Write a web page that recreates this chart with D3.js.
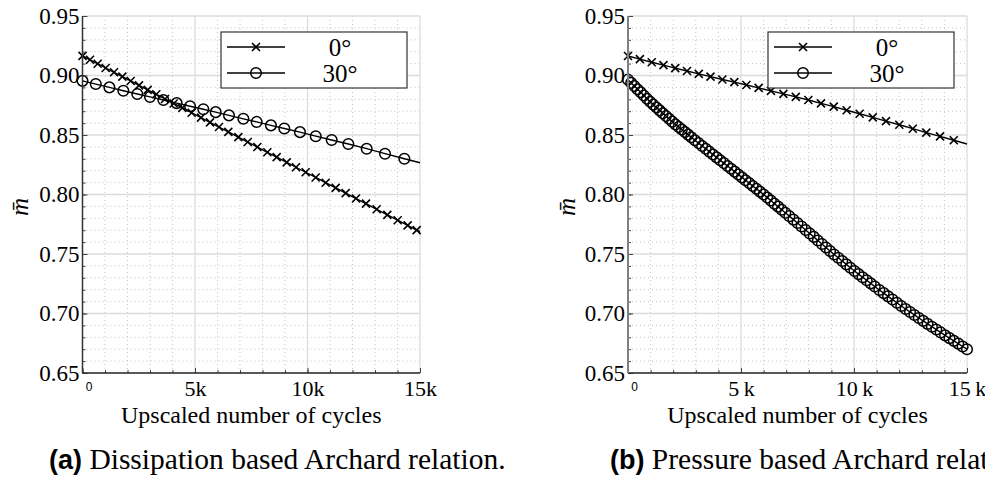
<!DOCTYPE html>
<html>
<head>
<meta charset="utf-8">
<script src="https://cdn.jsdelivr.net/npm/d3@7"></script>
<style>
  body { margin: 0; background: #fff; }
  svg { display: block; overflow: hidden; }
</style>
</head>
<body>
<svg id="chart" width="985" height="480"></svg>
<script>
// (a) dissipation based, 0 deg: marker positions
var cyclesA0 = [0, 333, 674, 1030, 1400, 1770, 2141, 2511, 2896, 3281, 3667, 4052, 4437, 4852, 5267,
    5667, 6067, 6481, 6926, 7341, 7770, 8215, 8630, 9074, 9489, 9919, 10363, 10807, 11252, 11696,
    12156, 12600, 13074, 13548, 14007, 14452, 14852];
var mA0 = [0.9165, 0.9132, 0.9099, 0.9063, 0.9027, 0.8990, 0.8954, 0.8917, 0.8879, 0.8842, 0.8803,
    0.8765, 0.8728, 0.8687, 0.8646, 0.8606, 0.8567, 0.8526, 0.8482, 0.8441, 0.8399, 0.8355, 0.8314,
    0.8270, 0.8229, 0.8187, 0.8143, 0.8099, 0.8056, 0.8012, 0.7966, 0.7923, 0.7876, 0.7829, 0.7784,
    0.7740, 0.7701];
var endA0 = 0.769;

// (a) 30 deg
var cyclesA30 = [0, 590, 1195, 1815, 2435, 3000, 3595, 4185, 4780, 5370, 5920, 6510, 7150, 7740,
    8375, 8970, 9665, 10365, 11075, 11815, 12630, 13445, 14305];
var mA30 = [0.8955, 0.8928, 0.8900, 0.8872, 0.8845, 0.8820, 0.8794, 0.8768, 0.8742, 0.8716, 0.8692,
    0.8665, 0.8636, 0.8610, 0.8581, 0.8555, 0.8524, 0.8490, 0.8458, 0.8424, 0.8385, 0.8343, 0.8300];
var endA30 = 0.8267;

// (b) pressure based, 0 deg
var cyclesB0 = [0, 525, 1050, 1570, 2090, 2610, 3130, 3650, 4175, 4705, 5240, 5780, 6325, 6875,
    7425, 7980, 8540, 9105, 9675, 10250, 10830, 11415, 12005, 12600, 13200, 13805, 14415];
var mB0 = [0.9164, 0.9138, 0.9111, 0.9087, 0.9062, 0.9038, 0.9014, 0.8990, 0.8966, 0.8944, 0.8920,
    0.8896, 0.8871, 0.8846, 0.8820, 0.8794, 0.8766, 0.8738, 0.8708, 0.8679, 0.8648, 0.8617, 0.8586,
    0.8553, 0.8520, 0.8488, 0.8456];
var endB0 = 0.8424;

// (b) 30 deg
var cyclesB30 = [0, 140, 280, 420, 560, 700, 840, 980, 1120, 1260, 1400, 1540, 1680, 1820, 1960,
    2100, 2240, 2380, 2520, 2660, 2800,
    2960, 3120, 3280, 3440, 3600, 3760, 3920, 4080, 4240, 4400, 4560, 4720, 4880, 5040, 5200, 5360,
    5520, 5680, 5840, 6000, 6160, 6320, 6480, 6640, 6800, 6960,
    7140, 7320, 7500, 7680, 7860, 8040, 8220, 8400, 8580, 8760, 8940, 9120, 9300, 9480, 9660, 9840,
    10020, 10200, 10380, 10560, 10740, 10920,
    11120, 11314, 11508, 11702, 11896, 12090, 12284, 12478, 12672, 12866, 13060, 13254, 13448, 13642,
    13836, 14030, 14224, 14418, 14612, 14806, 15000];
var mB30 = [0.8965, 0.8938, 0.8912, 0.8885, 0.8859, 0.8832, 0.8805, 0.8779, 0.8755, 0.8731, 0.8707,
    0.8683, 0.8659, 0.8636, 0.8612, 0.8589, 0.8568, 0.8546, 0.8525, 0.8503, 0.8481,
    0.8456, 0.8432, 0.8408, 0.8384, 0.8360, 0.8336, 0.8312, 0.8288, 0.8264, 0.8240, 0.8216, 0.8192,
    0.8168, 0.8144, 0.8120, 0.8096, 0.8072, 0.8048, 0.8024, 0.8000, 0.7974, 0.7949, 0.7923, 0.7898,
    0.7872, 0.7846,
    0.7818, 0.7789, 0.7760, 0.7731, 0.7702, 0.7673, 0.7644, 0.7614, 0.7584, 0.7555, 0.7525, 0.7496,
    0.7469, 0.7441, 0.7413, 0.7385, 0.7357, 0.7331, 0.7305, 0.7279, 0.7253, 0.7227,
    0.7198, 0.7171, 0.7144, 0.7117, 0.7090, 0.7063, 0.7038, 0.7013, 0.6988, 0.6962, 0.6938, 0.6913,
    0.6889, 0.6865, 0.6841, 0.6816, 0.6793, 0.6770, 0.6747, 0.6723, 0.6700];
var endB30 = null;

var xTickValues = [0, 5000, 10000, 15000];
var xTickLabelsA = ["0", "5k", "10k", "15k"];
var xTickLabelsB = ["0", "5\u2009k", "10\u2009k", "15\u2009k"];
var yTickValues = [0.65, 0.70, 0.75, 0.80, 0.85, 0.90, 0.95];
var legendLabels = ["0°", "30°"];
var xLabel = "Upscaled number of cycles";

var svg = d3.select("#chart");
var serif = "'Liberation Serif', 'Times New Roman', serif";
var sans = "'Liberation Sans', Arial, sans-serif";

function drawPanel(opt) {
    var x = d3.scaleLinear().domain([0, 15000]).range([opt.left, opt.right]);
    var y = d3.scaleLinear().domain([0.65, 0.95]).range([373, 16]);
    var g = svg.append("g");

    // minor grid (dotted)
    var minorX = d3.range(1000, 15000, 1000).filter(function(v) { return v % 5000 !== 0; });
    var minorY = d3.range(66, 95, 1).filter(function(v) { return v % 5 !== 0; }).map(function(v) { return v / 100; });
    g.append("g").selectAll("line").data(minorX).enter().append("line")
        .attr("x1", x).attr("x2", x).attr("y1", y(0.65)).attr("y2", y(0.95))
        .attr("stroke", "#c4c4c4").attr("stroke-width", 1).attr("stroke-dasharray", "1,3");
    g.append("g").selectAll("line").data(minorY).enter().append("line")
        .attr("y1", y).attr("y2", y).attr("x1", x(0)).attr("x2", x(15000))
        .attr("stroke", "#c4c4c4").attr("stroke-width", 1).attr("stroke-dasharray", "1,3");
    // major grid
    g.append("g").selectAll("line").data([5000, 10000, 15000]).enter().append("line")
        .attr("x1", x).attr("x2", x).attr("y1", y(0.65)).attr("y2", y(0.95))
        .attr("stroke", "#dcdcdc").attr("stroke-width", 1.3);
    g.append("g").selectAll("line").data([0.70, 0.75, 0.80, 0.85, 0.90, 0.95]).enter().append("line")
        .attr("y1", y).attr("y2", y).attr("x1", x(0)).attr("x2", x(15000))
        .attr("stroke", "#dcdcdc").attr("stroke-width", 1.3);

    // series
    var line = d3.line().x(function(d) { return x(d[0]); }).y(function(d) { return y(d[1]); });
    opt.series.forEach(function(s) {
        var pts = s.cycles.map(function(c, i) { return [c, s.m[i]]; });
        var linePts = s.end === null ? pts : pts.concat([[15000, s.end]]);
        g.append("path").datum(linePts).attr("d", line)
            .attr("fill", "none").attr("stroke", "#000").attr("stroke-width", 1.4);
        var mk = g.append("g").selectAll("g").data(pts).enter().append("g")
            .attr("transform", function(d) { return "translate(" + x(d[0]) + "," + y(d[1]) + ")"; });
        drawMarker(mk, s.marker);
    });

    // axes
    var ax = d3.axisBottom(x).tickValues(d3.range(0, 15001, 1000)).tickSize(-3).tickSizeOuter(0).tickFormat("");
    var gxm = g.append("g").attr("transform", "translate(0," + y(0.65) + ")").call(ax);
    var gx = g.append("g").attr("transform", "translate(0," + y(0.65) + ")")
        .call(d3.axisBottom(x).tickValues(xTickValues).tickSize(-5).tickSizeOuter(0).tickPadding(7)
            .tickFormat(function(d, i) { return opt.xLabels[i]; }));
    gx.attr("font-family", serif);
    gx.selectAll("text").attr("font-family", serif).attr("font-size", 22).attr("fill", "#000");
    gx.selectAll("text").filter(function(d) { return d === 0; })
        .attr("font-family", sans).attr("font-size", 12).attr("dx", 6).attr("dy", "0.9em");
    var aym = d3.axisLeft(y).tickValues(d3.range(65, 96, 1).map(function(v) { return v / 100; }))
        .tickSize(-3).tickSizeOuter(0).tickFormat("");
    var gym = g.append("g").attr("transform", "translate(" + x(0) + ",0)").call(aym);
    var gy = g.append("g").attr("transform", "translate(" + x(0) + ",0)")
        .call(d3.axisLeft(y).tickValues(yTickValues).tickSize(-5).tickSizeOuter(0).tickPadding(3)
            .tickFormat(d3.format(".2f")));
    gy.attr("font-family", serif);
    gy.selectAll("text").attr("font-family", serif).attr("font-size", 23).attr("fill", "#000");

    [gxm, gx, gym, gy].forEach(function(a) {
        a.selectAll(".tick line").attr("stroke", "#444");
        a.select(".domain").attr("stroke", "none");
    });
    g.append("line").attr("x1", x(0)).attr("x2", x(15000)).attr("y1", y(0.65)).attr("y2", y(0.65))
        .attr("stroke", "#222").attr("stroke-width", 1.5);
    g.append("line").attr("x1", x(0)).attr("x2", x(0)).attr("y1", y(0.65)).attr("y2", y(0.95))
        .attr("stroke", opt.yAxisColor).attr("stroke-width", opt.yAxisWidth);

    // axis titles
    g.append("text").attr("x", (opt.left + opt.right) / 2).attr("y", 423)
        .attr("text-anchor", "middle").attr("font-family", serif).attr("font-size", 24)
        .text(xLabel);
    g.append("text").attr("transform", "translate(" + (opt.ylabX) + ",207) rotate(-90)")
        .attr("text-anchor", "middle").attr("dy", "0.3em").attr("font-family", serif)
        .attr("font-style", "italic").attr("font-size", 25).text("m\u0304");

    // legend
    var lx = opt.legendX, ly = 32;
    var lg = g.append("g").attr("transform", "translate(" + lx + "," + ly + ")");
    lg.append("rect").attr("width", 186).attr("height", 56)
        .attr("fill", "#fff").attr("stroke", "#333").attr("stroke-width", 1.2);
    var rows = lg.selectAll("g.row").data(legendLabels).enter().append("g").attr("class", "row")
        .attr("transform", function(d, i) { return "translate(0," + (15 + i * 26) + ")"; });
    rows.append("line").attr("x1", 6).attr("x2", 64).attr("stroke", "#000").attr("stroke-width", 1.4);
    rows.each(function(d, i) {
        var m = d3.select(this).append("g").attr("transform", "translate(35,0)");
        drawMarker(m, opt.series[i].marker);
    });
    rows.append("text").attr("x", 119).attr("dy", "0.35em").attr("text-anchor", "middle")
        .attr("font-family", serif).attr("font-size", 25).text(function(d) { return d; });

    // caption
    var cap = svg.append("text").attr("x", opt.captionX).attr("y", 469).attr("font-size", 27);
    cap.append("tspan").attr("font-family", sans).attr("font-weight", "bold").text(opt.tag);
    cap.append("tspan").attr("font-family", serif).attr("font-size", 29.5).text(" " + opt.caption);
}

function drawMarker(sel, type) {
    if (type === "x") {
        sel.append("path").attr("d", "M-4,-4L4,4M-4,4L4,-4")
            .attr("stroke", "#000").attr("stroke-width", 1.6).attr("fill", "none");
    } else {
        sel.append("circle").attr("r", 5.3)
            .attr("stroke", "#000").attr("stroke-width", 1.5).attr("fill", "none");
    }
}

drawPanel({
    left: 82.5, right: 420, xLabels: xTickLabelsA, ylabX: 20, legendX: 221,
    yAxisColor: "#333", yAxisWidth: 1.5, captionX: 49,
    tag: "(a)", caption: "Dissipation based Archard relation.",
    series: [
        { cycles: cyclesA0, m: mA0, end: endA0, marker: "x" },
        { cycles: cyclesA30, m: mA30, end: endA30, marker: "o" }
    ]
});
drawPanel({
    left: 628, right: 967, xLabels: xTickLabelsB, ylabX: 567, legendX: 768,
    yAxisColor: "#808080", yAxisWidth: 2, captionX: 610,
    tag: "(b)", caption: "Pressure based Archard relation.",
    series: [
        { cycles: cyclesB0, m: mB0, end: endB0, marker: "x" },
        { cycles: cyclesB30, m: mB30, end: endB30, marker: "o" }
    ]
});
</script>
</body>
</html>
